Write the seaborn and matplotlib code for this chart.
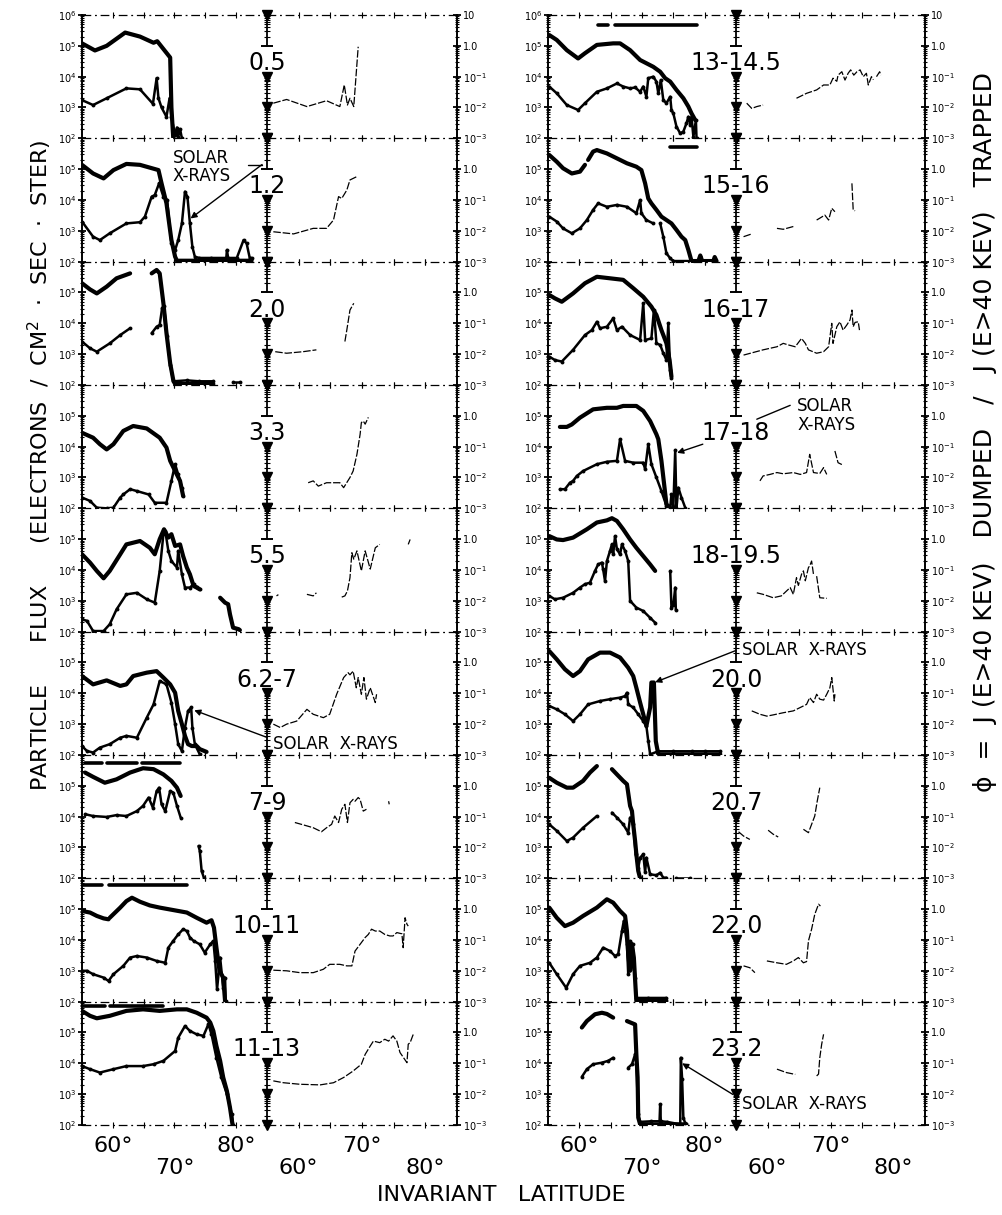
import numpy as np
import pandas as pd
import matplotlib
matplotlib.use("Agg")
import matplotlib.pyplot as plt
import seaborn as sns
from matplotlib import transforms
from matplotlib.ticker import FixedLocator, FixedFormatter, LogLocator, NullFormatter

G = (np.nan, np.nan)  # gap marker in a series

# ---------------- data: (invariant latitude [deg], log10 value) ----------------
# LEFT COLUMN
trap_05 = [(55.0,5.08),(57.1,4.85),(59.0,5.0),(62.0,5.43),(64.4,5.3),(66.6,5.1),(67.2,5.15),(69.3,4.62),(69.5,3.0),(69.8,2.0)]
dump_05 = [(55.0,3.24),(56.8,3.08),(59.0,3.3),(62.2,3.62),(64.4,3.59),(66.5,3.12),(67.1,3.95),(67.4,3.3),(67.9,3.0),(68.7,2.7),(69.2,3.3),(69.5,2.7),(70.1,2.1),(70.4,2.35),(70.6,2.05),(70.9,2.3),(71.2,2.0)]
ratio_05 = [(56.0,-1.86),(58.1,-1.74),(61.3,-1.97),(64.4,-1.78),(66.5,-1.97),(67.2,-1.27),(67.7,-1.92),(68.1,-1.70),(68.7,-1.97),(69.4,-0.03)]

trap_12 = [(55.0,5.14),(56.8,4.86),(58.5,4.70),(60.1,4.97),(62.2,5.17),(64.4,5.14),(67.4,4.97),(67.9,4.54),(68.7,3.89),(69.5,2.70),(70.1,2.16),(70.4,2.03),(74.0,2.03),(78.0,2.03),(82.5,2.03)]
dump_12 = [(55.0,3.30),(56.8,2.81),(57.9,2.70),(59.5,2.92),(62.2,3.24),(64.4,3.28),(65.2,3.46),(66.3,4.11),(66.8,4.16),(67.5,4.54),(68.2,4.11),(68.8,4.0),(69.5,2.59),(70.1,2.38),(70.6,2.70),(71.2,3.24),(71.7,4.27),(72.1,4.1),(72.5,3.24),(72.9,2.48),(73.3,2.16),(74.0,2.12),(76.0,2.12),(78.4,2.12),(78.5,2.38),(78.7,2.12),(80.1,2.12),(81.2,2.70),(81.7,2.59),(82.2,2.12),(82.5,2.12)]
ratio_12 = [(56.0,-2.03),(59.2,-2.10),(62.3,-1.92),(64.4,-1.92),(65.5,-1.65),(66.3,-0.89),(66.8,-0.95),(67.6,-0.68),(68.1,-0.35),(68.6,-0.30),(69.2,-0.24)]

trap_20 = [(55.0,5.30),(56.3,5.10),(57.4,4.97),(59.0,5.19),(60.6,5.46),(62.8,5.62),G,(66.3,5.62),(67.1,5.73),(67.6,5.62),(68.2,4.65),(68.7,3.68),(69.3,2.70),(69.8,2.16),(70.1,2.03),(76.3,2.03)]
dump_20 = [G,(66.3,3.68),(67.1,3.89),(67.6,3.95),(68.0,4.5),(68.3,4.55),(68.8,3.6),(69.3,2.65),(69.8,2.12),(72.0,2.15),(74.0,2.12),(76.3,2.12),G,(79.5,2.1),(80.6,2.1)]
dump_20a = [(55.0,3.41),(56.3,3.19),(57.4,3.08),(59.5,3.35),(61.2,3.62),(62.8,3.84)]
ratio_20 = [(56.3,-1.92),(58.1,-1.97),(60.7,-1.92),(62.8,-1.86),G,(67.3,-1.59),(67.6,-1.22),(68.1,-0.57),(68.7,-0.35)]

trap_33 = [(55.0,4.45),(56.8,4.29),(57.9,4.08),(59.0,3.91),(60.1,4.08),(61.7,4.51),(63.3,4.67),(65.5,4.59),(67.6,4.29),(68.7,3.97),(69.3,3.54),(70.1,3.21),(70.9,2.89),(71.4,2.40)]
dump_33 = [(55.0,2.35),(56.3,2.24),(57.4,2.02),(59.0,2.0),(60.1,2.02),(61.2,2.35),(61.7,2.45),(62.8,2.62),(63.9,2.56),(65.8,2.45),(66.8,2.18),(68.7,2.18),(69.5,2.89),(70.1,3.43),(70.6,3.10),(71.2,2.67),(71.4,2.40)]
ratio_33 = [(61.5,-2.17),(62.3,-2.11),(63.1,-2.28),(64.4,-2.17),(66.5,-2.17),(67.1,-2.33),(68.1,-2.0),(68.6,-1.79),(69.2,-1.25),(69.7,-0.6),(69.9,-0.22),(70.2,-0.17),(70.5,-0.27),(71.0,-0.05)]

trap_55 = [(55.0,4.51),(56.3,4.24),(57.4,3.97),(58.5,3.73),(59.5,3.97),(61.2,4.51),(62.2,4.83),(64.4,4.94),(66.0,4.72),(66.8,4.51),(67.6,5.0),(68.3,5.32),(69.0,5.05),(69.5,5.16),(70.1,4.78),(70.9,4.83),(71.4,4.45),(72.0,4.08),(72.5,3.86),(73.1,3.48),(73.6,3.43),(74.1,3.37),G,(77.4,3.10),(78.2,2.94),(78.7,2.89),(79.0,2.56),(79.5,2.13),(80.4,2.08),(80.6,2.05)]
dump_55 = [(55.0,2.40),(55.8,2.35),(56.8,2.02),(58.5,2.02),(59.5,2.24),(60.6,2.72),(62.2,3.21),(63.9,3.26),(65.5,3.05),(66.8,2.94),(67.6,3.97),(68.2,5.16),(68.5,5.27),(69.0,4.62),(69.5,4.29),(70.4,4.08),(70.6,4.62),(71.2,3.86),(71.7,3.43),(72.5,3.43),(73.1,3.54),(73.6,3.45),(74.1,3.37)]
ratio_55 = [(56.5,-1.84),(56.8,-1.80),G,(61.3,-1.79),(62.3,-1.84),(62.8,-1.74),G,(66.8,-1.88),(67.3,-1.84),(67.7,-1.68),(68.1,-1.25),(68.4,-0.44),(68.7,-0.65),(69.2,-0.38),(69.9,-1.03),(70.5,-0.38),(71.3,-0.97),(72.1,-0.28),(72.8,-0.17),G,(77.3,-0.17),(77.6,-0.01)]

trap_62 = [(55.0,4.56),(56.8,4.29),(59.0,4.42),(61.2,4.24),(62.2,4.29),(63.3,4.56),(65.5,4.67),(67.1,4.72),(68.2,4.51),(69.3,4.29),(70.1,4.02),(70.6,3.43),(71.2,3.0),(71.7,2.62),(72.2,2.35),(72.8,2.29),(73.6,2.29),(74.1,2.19),(75.2,2.1)]
dump_62 = [(55.0,2.29),(55.8,2.13),(56.8,2.08),(57.9,2.24),(59.5,2.35),(61.2,2.56),(62.2,2.62),(63.9,2.56),(65.5,3.21),(66.6,3.64),(67.6,4.40),(68.7,4.29),(69.5,3.70),(70.1,3.0),(70.6,2.35),(71.2,2.13),(71.7,2.89),(72.2,3.43),(72.7,3.54),(72.9,2.89),(73.3,2.35),(74.1,2.02)]
ratio_62 = [(56.0,-2.0),(57.1,-2.11),(58.1,-2.0),(59.7,-1.90),(61.3,-1.52),(62.3,-1.68),(63.9,-1.79),(64.9,-1.68),(66.0,-1.03),(67.1,-0.49),(67.8,-0.33),(68.1,-0.40),(68.6,-0.28),(69.1,-0.82),(69.4,-0.49),(69.9,-1.03),(70.3,-0.49),(70.7,-1.19),(71.3,-0.82),(72.1,-1.30),(72.3,-1.03)]

trap_79 = [(55.5,5.43),(56.8,5.29),(58.7,5.10),(60.6,5.21),(62.8,5.43),(64.9,5.57),(66.6,5.54),(68.2,5.37),(69.5,5.16),(70.4,4.94),(71.0,4.67)]
dump_79 = [(55.5,4.08),(56.8,4.02),(59.0,3.99),(60.6,4.05),(62.2,4.02),(63.9,4.18),(64.9,4.35),(65.8,4.62),(66.5,4.29),(67.1,4.83),(67.5,4.94),(67.9,4.40),(68.5,4.18),(69.3,4.83),(69.8,4.78),(70.4,4.35),(71.0,3.97),G,(73.9,3.05),(74.1,2.89),(74.4,2.24),(74.8,2.0)]
ratio_79 = [(59.4,-1.19),(61.3,-1.30),(62.3,-1.36),(63.6,-1.49),(64.4,-1.36),(65.2,-1.25),(65.7,-0.98),(66.3,-1.19),(66.8,-0.76),(67.3,-0.60),(67.7,-1.19),(68.1,-0.55),(68.6,-0.44),(68.9,-0.50),(69.4,-0.38),(69.7,-0.44),(70.2,-0.82),(70.7,-0.76),G,(74.2,-0.50),(74.3,-0.60)]
bar_79 = [(55.5,5.75),(58.2,5.75),G,(59.0,5.75),(63.9,5.75),G,(64.7,5.75),(70.9,5.75)]

trap_1011 = [(55.0,4.94),(56.3,4.89),(57.4,4.78),(58.5,4.70),(59.3,4.67),G,(59.5,4.72),(61.2,5.05),(62.2,5.26),(63.1,5.37),(64.4,5.24),(66.0,5.12),(67.6,5.05),(69.8,4.97),(72.0,4.89),(73.6,4.72),(75.2,4.56),(76.0,4.64),(76.4,4.40),(76.8,3.75),(77.3,3.0),(77.9,2.78),(78.2,2.02)]
dump_1011 = [(55.0,3.0),(55.8,3.0),(56.8,2.89),(58.5,2.78),(59.3,2.67),(60.1,2.89),(61.7,3.16),(62.8,3.43),(63.9,3.48),(65.5,3.43),(67.1,3.32),(68.5,3.26),(69.0,3.75),(69.8,3.97),(70.6,4.18),(71.4,4.35),(72.0,4.29),(72.5,4.08),(73.1,3.97),(74.1,3.86),(74.9,3.59),(75.8,3.86),(76.3,3.97),(76.6,3.32),(76.9,2.40),(77.4,3.43),(77.9,2.45),(78.2,2.78),(78.3,2.02)]
ratio_1011 = [(56.0,-1.98),(58.1,-2.0),(60.2,-2.06),(62.3,-2.06),(63.9,-1.95),(64.9,-1.79),(66.5,-1.79),(67.6,-1.84),(68.4,-1.84),(68.9,-1.36),(69.7,-1.14),(70.5,-0.92),(71.0,-0.82),(71.5,-0.65),(72.1,-0.71),(72.8,-0.71),(73.6,-0.82),(74.4,-0.87),(74.9,-0.87),(75.5,-0.76),(76.3,-0.80),(76.5,-1.25),(76.8,-0.28),(77.1,-0.49),(77.3,-0.55)]
bar_1011 = [(55.2,5.78),(58.2,5.78),G,(59.3,5.78),(72.0,5.78)]

trap_1113 = [(55.0,5.70),(56.3,5.54),(57.4,5.46),(59.5,5.54),(62.2,5.70),(64.9,5.75),(67.6,5.70),(70.4,5.75),(72.0,5.75),(73.6,5.64),(75.2,5.48),(75.8,5.32),(76.3,5.05),(76.8,4.56),(77.4,4.08),(77.9,3.54),(78.5,3.10),(79.0,2.56),(79.4,2.02)]
dump_1113 = [(55.0,3.91),(56.3,3.81),(57.9,3.70),(60.1,3.81),(62.2,3.91),(64.9,3.91),(66.6,3.97),(68.2,4.08),(70.1,4.40),(70.6,4.83),(71.7,5.21),(72.5,5.05),(73.6,4.94),(74.7,4.89),(75.5,5.27),(76.0,4.94),(76.8,4.18),(77.6,3.54),(78.5,3.0),(79.3,2.35),(79.5,2.0)]
ratio_1113 = [(56.0,-1.57),(57.6,-1.63),(60.2,-1.68),(63.4,-1.70),(65.5,-1.63),(67.1,-1.46),(68.6,-1.25),(69.9,-1.03),(70.5,-0.71),(71.3,-0.44),(71.8,-0.28),(72.8,-0.33),(73.6,-0.22),(74.2,-0.28),(74.9,-0.11),(75.5,-0.28),(76.0,-0.65),(77.1,-0.98),(77.3,-0.38),(77.6,-0.33),(78.0,-0.11),(78.1,-0.06)]
bar_1113 = [(55.2,5.86),(58.7,5.86),G,(59.5,5.86),(68.2,5.86)]

# RIGHT COLUMN
trap_1314 = [(55.2,5.35),(56.4,5.19),(58.0,4.86),(59.8,4.59),(60.9,4.76),(62.8,5.03),(65.4,5.08),(66.5,5.08),(68.1,4.86),(69.7,4.54),(71.8,4.32),(72.9,4.16),(73.7,3.95),(74.5,3.84),(75.5,3.57),(76.6,3.30),(77.4,3.03),(77.9,2.81),(78.5,2.59)]
dump_1314 = [(55.2,3.68),(56.4,3.46),(58.0,3.08),(59.8,2.92),(60.9,3.14),(62.8,3.51),(64.4,3.62),(66.0,3.78),(67.0,3.68),(68.1,3.62),(68.9,3.65),(69.7,3.51),(70.2,3.68),(70.7,3.35),(71.0,3.95),(71.8,4.0),(72.3,3.84),(72.6,3.46),(73.0,3.89),(73.4,3.24),(73.9,3.14),(74.5,3.35),(74.7,2.92),(75.0,2.81),(75.5,2.38),(76.1,2.16),(76.6,2.22),(77.1,2.49),(77.4,2.70),(77.7,2.43),(77.9,2.70),(78.2,2.05),(78.6,2.59),(78.7,2.0)]
ratio_1314 = [(56.7,-1.86),(57.5,-2.03),(58.3,-1.97),(59.3,-1.92),G,(64.6,-1.70),(66.2,-1.54),(67.8,-1.43),(68.9,-1.27),(69.9,-1.27),(70.4,-1.05),(71.0,-1.15),(71.2,-0.95),(71.8,-0.84),(72.3,-1.11),(72.8,-0.89),(73.2,-0.78),(73.7,-0.95),(74.2,-0.84),(74.7,-0.78),(75.2,-1.0),(75.7,-0.89),(76.0,-1.27),(76.5,-1.0),(76.8,-1.1),G,(77.3,-1.0),(77.8,-0.84),(78.0,-0.95)]
bar_1314 = [(63.0,5.68),(64.6,5.68),G,(65.7,5.68),(78.7,5.68)]

trap_1516 = [(55.2,5.46),(56.4,5.24),(57.4,5.03),(58.8,4.86),(60.1,4.92),(60.9,5.14),G,(61.4,5.30),(62.2,5.57),(62.8,5.62),(64.4,5.51),(66.0,5.35),(67.6,5.19),(69.1,5.08),(69.9,4.97),(70.5,4.54),(71.0,4.05),(71.5,3.89),(72.3,3.68),(73.1,3.46),(73.9,3.35),(74.7,3.24),(75.5,3.03),(76.3,2.81),(76.9,2.70),(77.4,2.38),(77.9,2.02),(79.0,2.02),(79.3,2.2),(79.6,2.02),(81.4,2.02),(81.6,2.15),(81.9,2.02)]
dump_1516 = [(55.2,3.46),(56.4,3.30),(57.4,3.08),(58.8,2.92),(60.1,3.08),(61.2,3.35),(62.2,3.68),(63.0,3.89),(64.4,3.78),(66.0,3.84),(67.6,3.78),(69.1,3.57),(69.7,4.0),(69.9,3.57),(70.7,3.35),(71.8,3.24),G,(72.9,3.24),(73.4,2.81),(73.9,2.27),(74.5,2.11),(75.0,2.02),(77.9,2.02)]
ratio_1516 = [(56.2,-2.19),(57.5,-2.10),G,(61.5,-1.92),(62.5,-1.95),(64.1,-1.86),G,(67.8,-1.65),(68.3,-1.59),(69.1,-1.49),(69.7,-1.65),(70.2,-1.27),(70.7,-1.38),G,(73.4,-0.46),(73.6,-1.32),(73.9,-1.35)]
bar_1516 = [(74.4,5.72),(78.7,5.72)]

trap_1617 = [(55.2,4.92),(56.1,4.81),(57.2,4.70),(59.0,4.97),(60.9,5.30),(62.8,5.51),(64.9,5.46),(67.0,5.41),(68.6,5.14),(70.2,4.86),(71.5,4.54),(72.3,4.27),(73.1,3.78),(73.7,3.46),(73.9,3.35),(74.4,2.81),(74.7,2.27)]
dump_1617 = [(55.2,2.92),(56.1,2.81),(57.2,2.76),(59.0,3.14),(60.9,3.62),(62.0,3.78),(62.8,4.05),(63.3,3.84),(64.4,3.89),(65.4,4.16),(66.0,3.78),(66.8,3.89),(68.1,3.62),(69.7,3.46),(70.2,4.65),(70.5,3.46),(71.5,3.51),(71.9,4.43),(72.3,3.35),(72.9,3.3),(73.4,3.03),(73.9,2.81),(74.2,4.0),(74.5,2.49),(74.7,2.22)]
ratio_1617 = [(56.2,-2.03),(59.3,-1.86),(61.5,-1.76),(62.5,-1.65),(63.3,-1.70),(64.4,-1.76),(65.4,-1.49),(66.0,-1.65),(66.5,-1.86),(67.8,-1.97),(68.9,-1.92),(69.7,-1.76),(70.2,-1.0),(70.4,-1.65),(71.0,-1.11),(71.5,-0.95),(72.0,-1.22),(72.6,-1.05),(73.1,-0.89),(73.4,-0.57),(73.6,-1.11),(73.9,-0.97),(74.4,-0.95),(74.6,-1.22)]

trap_1718 = [(56.9,4.64),(58.0,4.64),(58.8,4.72),(60.1,4.94),(62.2,5.21),(64.4,5.26),(66.0,5.26),(67.0,5.32),(69.1,5.32),(70.2,5.16),(71.3,4.83),(72.3,4.40),(72.6,4.24),(73.1,3.54),(73.9,2.13),(74.5,2.02)]
dump_1718 = [(56.9,2.62),(57.7,2.62),(58.5,2.83),(59.0,2.89),(59.6,3.05),(60.6,3.21),(62.8,3.43),(64.4,3.51),(66.0,3.54),(66.5,4.24),(67.3,3.54),(68.6,3.48),(70.2,3.48),(70.5,3.27),(71.0,4.08),(71.5,3.43),(72.3,3.0),(73.1,2.56),(73.9,2.08),(74.5,2.02),(74.7,2.45),(75.0,2.02),(75.3,3.89),(75.5,2.0),(75.8,2.67),(76.3,2.35),(76.9,2.02)]
ratio_1718 = [(58.8,-2.11),(59.3,-1.95),(60.4,-1.90),(61.5,-1.84),(62.5,-1.88),(64.1,-1.84),(65.2,-1.90),(66.2,-1.84),(66.7,-1.25),(67.3,-1.84),(68.3,-1.87),(68.9,-1.68),(69.4,-1.90),G,(70.7,-1.14),(71.2,-1.52),(71.8,-1.58)]

trap_1819 = [(55.2,5.10),(56.4,4.99),(57.4,4.97),(59.0,5.05),(61.2,5.32),(62.8,5.54),(64.4,5.61),(65.2,5.68),(66.0,5.59),(67.0,5.32),(68.1,4.99),(69.1,4.72),(70.2,4.45),(71.3,4.18),(72.1,3.97)]
dump_1819 = [(55.2,3.16),(56.1,3.05),(57.4,3.10),(59.0,3.26),(60.1,3.43),(60.9,3.54),(61.7,3.59),(62.5,3.97),(63.0,4.18),(63.6,4.24),(63.8,4.02),(64.1,3.64),(64.4,4.29),(64.9,4.62),(65.2,4.83),(65.4,4.51),(65.7,5.10),(66.0,4.67),(66.5,4.51),(66.8,4.83),(67.3,4.62),(67.8,4.29),(68.1,3.0),(69.1,2.78),(70.2,2.67),(71.3,2.45),(72.1,2.29),G,(74.5,3.97),(74.7,2.78),(75.0,2.85),(75.3,3.43),(75.4,2.7)]
ratio_1819 = [(58.3,-1.74),(59.3,-1.79),(60.9,-1.90),(62.2,-1.84),(63.6,-1.57),(64.1,-1.79),(64.6,-1.25),(64.9,-1.50),(65.4,-1.14),(65.7,-1.03),(66.0,-1.35),(66.5,-0.92),(66.7,-0.87),(67.0,-0.71),(67.3,-1.14),G,(67.8,-1.2),(68.3,-1.90),(69.4,-1.92)]

trap_200 = [(55.2,5.37),(56.4,5.10),(57.7,4.78),(59.0,4.56),(60.1,4.72),(61.4,5.10),(63.3,5.32),(64.9,5.32),(66.5,5.16),(67.8,4.83),(68.6,4.56),(69.1,4.18),(69.7,3.70),(70.2,3.32),(70.7,2.94),(71.3,3.54),(71.5,4.35),(71.9,4.35),(72.2,2.45),(72.6,2.02),(76.0,2.02),(79.0,2.02),(82.5,2.02)]
dump_200 = [(55.2,3.59),(56.4,3.48),(57.7,3.32),(59.0,3.10),(60.1,3.32),(61.4,3.64),(63.3,3.75),(64.9,3.81),(66.5,3.86),(67.3,3.91),(67.6,4.02),(67.8,3.64),(68.6,3.54),(69.4,3.32),(70.2,3.10),(70.7,2.94),(71.0,2.45),(71.3,2.02),(72.6,2.12),(75.0,2.12),(78.0,2.12),(80.0,2.12),(82.5,2.12)]
ratio_200 = [(57.5,-1.57),(58.8,-1.68),(59.9,-1.74),(60.9,-1.70),(62.5,-1.63),(64.1,-1.57),(65.2,-1.46),(66.2,-1.36),(66.7,-1.14),(67.3,-1.30),(67.8,-1.03),(68.3,-1.19),(68.9,-1.22),(69.4,-1.03),(69.9,-0.82),(70.2,-0.49),(70.6,-1.25),(70.7,-1.03)]

trap_207 = [(55.2,5.26),(56.4,5.10),(58.0,4.94),(59.0,4.94),(60.6,5.16),(61.7,5.43),(62.8,5.64),G,(65.2,5.54),(66.0,5.37),(67.0,5.16),(67.6,5.05),(68.1,4.35),(68.4,4.18),(68.6,3.75),(68.9,3.21),(69.1,2.78),(69.4,2.24),(69.7,2.0)]
dump_207 = [(55.2,3.75),(56.4,3.54),(58.0,3.21),(59.0,3.32),(60.6,3.64),(62.8,4.02),G,(65.2,4.13),(66.0,3.97),(67.0,3.75),(67.8,3.48),(68.1,3.97),(68.6,3.75),(69.0,2.78),(69.4,2.35),(69.7,2.67),(70.2,2.78),(70.5,2.2),(70.7,2.67),(71.3,2.13),(72.3,2.1),(72.9,2.18),(73.4,2.02),(73.9,2.02),G,(75.5,2.02),(77.7,2.02)]
ratio_207 = [(55.4,-1.49),(56.2,-1.63),(57.2,-1.74),G,(60.1,-1.44),(60.9,-1.57),(61.7,-1.66),G,(65.7,-1.41),(66.5,-1.52),(67.5,-0.98),(67.9,-0.49),(68.3,-0.06)]

trap_220 = [(55.2,5.05),(56.4,4.72),(57.7,4.45),(59.0,4.56),(60.6,4.78),(62.8,5.05),(64.4,5.32),(65.4,5.21),(66.5,4.94),(67.3,4.78),(67.6,4.29),(67.8,3.54),(68.1,3.0),(68.4,3.86),(68.7,3.43),(69.0,2.35),(69.1,2.02),(73.9,2.02)]
dump_220 = [(55.2,3.26),(56.4,2.89),(57.9,2.45),(59.0,2.89),(60.1,3.16),(61.7,3.26),(62.8,3.43),(63.8,3.75),(64.9,3.64),(65.7,3.48),(66.2,3.54),(66.8,4.29),(67.1,4.62),(67.6,3.86),(67.8,2.89),(68.1,3.97),(68.5,3.86),(68.9,2.78),(69.1,2.12),(71.0,2.12),(73.9,2.12)]
ratio_220 = [(56.2,-1.84),(57.2,-1.90),(58.0,-2.06),G,(59.9,-1.68),(61.5,-1.74),(63.0,-1.79),(64.1,-1.68),(64.9,-1.57),(65.7,-1.74),(66.2,-1.70),(66.5,-1.03),(67.0,-0.65),(67.5,-0.17),(68.1,0.16),(68.4,0.10)]

trap_232 = [(60.4,5.16),(61.2,5.37),(62.5,5.59),(63.6,5.64),(64.4,5.60),(65.4,5.48),G,(67.6,5.37),(68.9,5.26),(69.1,4.29),(69.3,3.54),(69.4,2.24),(69.7,2.02),(72.0,2.02),(75.0,2.02),(77.1,2.02)]
dump_232 = [(60.4,3.56),(61.2,3.81),(62.2,3.97),(63.6,4.02),(64.6,4.08),(65.4,4.18),G,(67.8,3.86),(68.4,3.97),(68.9,4.29),(69.1,3.97),(69.4,2.35),(69.7,2.1),(71.5,2.12),(72.8,2.12),(72.9,2.67),(73.0,2.12),(74.0,2.1),(76.1,2.02),(76.2,4.18),(76.4,3.5),(76.6,2.24),(76.9,2.05)]
ratio_232 = [(61.5,-1.19),(63.0,-1.30),(64.4,-1.36),G,(67.8,-1.41),(68.1,-1.35),(68.3,-0.82),(68.6,-0.38),(68.9,-0.06)]

LEFT_LABELS = ["0.5", "1.2", "2.0", "3.3", "5.5", "6.2-7", "7-9", "10-11", "11-13"]
RIGHT_LABELS = ["13-14.5", "15-16", "16-17", "17-18", "18-19.5", "20.0", "20.7", "22.0", "23.2"]

LEFT = [(trap_05, [dump_05], ratio_05, None), (trap_12, [dump_12], ratio_12, None),
        (trap_20, [dump_20a, dump_20], ratio_20, None), (trap_33, [dump_33], ratio_33, None),
        (trap_55, [dump_55], ratio_55, None), (trap_62, [dump_62], ratio_62, None),
        (trap_79, [dump_79], ratio_79, bar_79), (trap_1011, [dump_1011], ratio_1011, bar_1011),
        (trap_1113, [dump_1113], ratio_1113, bar_1113)]
RIGHT = [(trap_1314, [dump_1314], ratio_1314, bar_1314), (trap_1516, [dump_1516], ratio_1516, bar_1516),
         (trap_1617, [dump_1617], ratio_1617, None), (trap_1718, [dump_1718], ratio_1718, None),
         (trap_1819, [dump_1819], ratio_1819, None), (trap_200, [dump_200], ratio_200, None),
         (trap_207, [dump_207], ratio_207, None), (trap_220, [dump_220], ratio_220, None),
         (trap_232, [dump_232], ratio_232, None)]

X_TICKS = [60, 65, 70, 75, 80]
X_LABELS = [60, 70, 80]

# ---------------- figure ----------------
sns.set_theme(style="ticks")
plt.rcParams["font.family"] = ["DejaVu Sans"]
plt.rcParams["mathtext.fontset"] = "dejavusans"
for k in ("text.color", "axes.labelcolor", "xtick.color", "ytick.color", "axes.edgecolor"):
    plt.rcParams[k] = "black"

W, H = 1003, 1215
fig = plt.figure(figsize=(W / 100, H / 100), dpi=100)

TOP_PX, PH = 15.0, 123.33
COLS = [(82, 267, 457), (548, 736, 925)]
DASHDOT = (0, (7, 3, 1.5, 3))


def to_df(pairs):
    rows, seg = [], 0
    for lat, v in pairs:
        if np.isnan(lat):
            seg += 1
            continue
        rows.append((lat, 10.0 ** v, seg))
    return pd.DataFrame(rows, columns=["lat", "val", "seg"])


def draw(ax, pairs, **kw):
    df = to_df(pairs)
    if df.empty:
        return
    sns.lineplot(data=df, x="lat", y="val", units="seg", estimator=None, sort=False,
                 color="black", legend=False, ax=ax, **kw)


def common_x(ax):
    ax.set_xlim(55, 85)
    ax.set_xticks(X_TICKS)
    ax.set_xticklabels([])
    ax.tick_params(axis="x", which="both", direction="inout", length=5, width=0.8,
                   top=True, bottom=True)
    ax.set_xlabel("")
    ax.set_ylabel("")


panel_axes = {}
for c, (panels, labels) in enumerate([(LEFT, LEFT_LABELS), (RIGHT, RIGHT_LABELS)]):
    fx, dx, rx = COLS[c]
    for i, ((trap, dumps, ratio, bar), lab) in enumerate(zip(panels, labels)):
        top = (i == 0)
        bottom = (i == len(panels) - 1)
        b = 1 - (TOP_PX + (i + 1) * PH) / H
        h = PH / H
        axf = fig.add_axes([fx / W, b, (dx - fx) / W, h])
        axr = fig.add_axes([dx / W, b, (rx - dx) / W, h])
        for ax in (axf, axr):
            ax.set_facecolor("none")
            ax.set_yscale("log")

        # data
        draw(axf, trap, linewidth=3.0)
        for d in dumps:
            draw(axf, d, linewidth=1.8, marker="o", markersize=2.8, markeredgewidth=0)
        if bar is not None:
            draw(axf, bar, linewidth=2.6)
        draw(axr, ratio, linewidth=0.9, linestyle=(0, (6, 1.5)))

        # flux axis
        axf.set_ylim(1e2, 1e6)
        common_x(axf)
        for s in ("top", "bottom", "right"):
            axf.spines[s].set_visible(False)
        axf.spines["left"].set_linewidth(1.4)
        fl_ticks = [1e2, 1e3, 1e4, 1e5] + ([1e6] if top else [])
        fl_labs = [r"$10^{2}$", r"$10^{3}$", r"$10^{4}$", r"$10^{5}$"] + ([r"$10^{6}$"] if top else [])
        axf.yaxis.set_major_locator(FixedLocator(fl_ticks))
        axf.yaxis.set_major_formatter(FixedFormatter(fl_labs))
        axf.yaxis.set_minor_locator(LogLocator(base=10, subs=np.arange(2, 10) * 1.0, numticks=20))
        axf.yaxis.set_minor_formatter(NullFormatter())
        axf.tick_params(axis="y", which="major", direction="inout", length=6, width=1.3,
                        labelsize=7, pad=1)
        axf.tick_params(axis="y", which="minor", direction="inout", length=3, width=0.8)

        # ratio axis
        axr.set_ylim(1e-3, 1e1)
        common_x(axr)
        for s in ("top", "bottom", "left"):
            axr.spines[s].set_visible(False)
        axr.spines["right"].set_linewidth(1.4)
        axr.yaxis.tick_right()
        r_ticks = [1e-3, 1e-2, 1e-1, 1e0] + ([1e1] if top else [])
        r_labs = [r"$10^{-3}$", r"$10^{-2}$", r"$10^{-1}$", "1.0"] + (["10"] if top else [])
        axr.yaxis.set_major_locator(FixedLocator(r_ticks))
        axr.yaxis.set_major_formatter(FixedFormatter(r_labs))
        axr.yaxis.set_minor_locator(LogLocator(base=10, subs=np.arange(2, 10) * 1.0, numticks=20))
        axr.yaxis.set_minor_formatter(NullFormatter())
        axr.tick_params(axis="y", which="major", direction="inout", length=6, width=1.3,
                        labelsize=7, pad=1, left=False, right=True)
        axr.tick_params(axis="y", which="minor", direction="inout", length=3, width=0.8,
                        left=False, right=True)

        # dash-dot frame lines
        for ax, lo, hi in ((axf, 1e2, 1e6), (axr, 1e-3, 1e1)):
            ax.axhline(lo, color="black", lw=0.9, ls=DASHDOT, clip_on=False)
            if top:
                ax.axhline(hi, color="black", lw=0.9, ls=DASHDOT, clip_on=False)

        # central divider with decade arrows
        axf.plot([85, 85], [1e5, 1e6], color="black", lw=1.3, clip_on=False)
        axf.plot([85, 85], [1e2, 1e4], color="black", lw=1.3, clip_on=False)
        axf.plot([85] * 4, [1e6, 1e4, 1e3, 1e2], ls="none", marker="v", ms=6.5,
                 color="black", clip_on=False)
        axf.plot([85], [1e5], ls="none", marker="_", ms=9, mew=1.4, color="black", clip_on=False)
        minors = [m * 10.0 ** k for k in (5, 2, 3) for m in range(2, 10)]
        axf.plot([85] * len(minors), minors, ls="none", marker="_", ms=4, mew=0.8,
                 color="black", clip_on=False)

        # panel label (local time)
        axf.text(1.0, 0.612, lab, transform=axf.transAxes, ha="center", va="center",
                 fontsize=17, clip_on=False, zorder=6)

        # bottom tick labels, staggered
        if bottom:
            for ax, ups in ((axf, (True, False, True)), (axr, (False, True, False))):
                tr = transforms.blended_transform_factory(ax.transData, fig.transFigure)
                for lat, up in zip(X_LABELS, ups):
                    ax.text(lat, 1 - (1146 if up else 1168) / H, f"{lat}°", transform=tr,
                            ha="center", va="center", fontsize=16)
        panel_axes[lab] = (axf, axr)

# ---------------- annotations ----------------
ARW = dict(arrowstyle="-|>", lw=1.0, color="black", mutation_scale=9, shrinkA=0, shrinkB=0)

axf, axr = panel_axes["1.2"]
axf.text(69.7, 10 ** 5.07, "SOLAR\nX-RAYS", ha="left", va="center", fontsize=12,
         linespacing=1.05, clip_on=False)
axf.plot([81.9, 84.2], [10 ** 5.15, 10 ** 5.15], color="black", lw=1.0, clip_on=False)
axf.annotate("", xy=(72.6, 10 ** 3.4), xytext=(84.2, 10 ** 5.15), arrowprops=ARW,
             annotation_clip=False)

axf, axr = panel_axes["6.2-7"]
axf.annotate("", xy=(73.2, 10 ** 3.45), xytext=(85, 10 ** 2.57), arrowprops=ARW,
             annotation_clip=False)
axr.text(55.9, 10 ** -2.66, "SOLAR  X-RAYS", ha="left", va="center", fontsize=12, clip_on=False)

axf, axr = panel_axes["17-18"]
axr.text(64.7, 10 ** 0.02, "SOLAR\nX-RAYS", ha="left", va="center", fontsize=12,
         linespacing=1.05, clip_on=False)
axr.plot([58.3, 63.6], [10 ** -0.11, 10 ** 0.34], color="black", lw=1.0, clip_on=False)
axf.annotate("", xy=(75.6, 10 ** 3.8), xytext=(79.7, 10 ** 4.08), arrowprops=ARW,
             annotation_clip=False)

axf, axr = panel_axes["20.0"]
axr.text(56.0, 10 ** 0.39, "SOLAR  X-RAYS", ha="left", va="center", fontsize=12, clip_on=False)
axf.annotate("", xy=(72.1, 10 ** 4.36), xytext=(85, 10 ** 5.39), arrowprops=ARW,
             annotation_clip=False)

axf, axr = panel_axes["23.2"]
axr.text(56.0, 10 ** -2.33, "SOLAR  X-RAYS", ha="left", va="center", fontsize=12, clip_on=False)
axf.annotate("", xy=(76.4, 10 ** 4.0), xytext=(84.5, 10 ** 2.99), arrowprops=ARW,
             annotation_clip=False)

# ---------------- axis titles ----------------
fig.text(40 / W, 1 - 465 / H,
         "PARTICLE      FLUX      (ELECTRONS  /  CM$^{2}$  ·  SEC  ·  STER)",
         rotation=90, ha="center", va="center", fontsize=16)
fig.text(985 / W, 1 - 432 / H,
         "ϕ  =  J (E>40 KEV)   DUMPED   /   J (E>40 KEV)   TRAPPED",
         rotation=90, ha="center", va="center", fontsize=18)
fig.text(501 / W, 1 - 1195 / H, "INVARIANT   LATITUDE", ha="center", va="center", fontsize=16)

fig.savefig("out.png", dpi=100, facecolor="white")
